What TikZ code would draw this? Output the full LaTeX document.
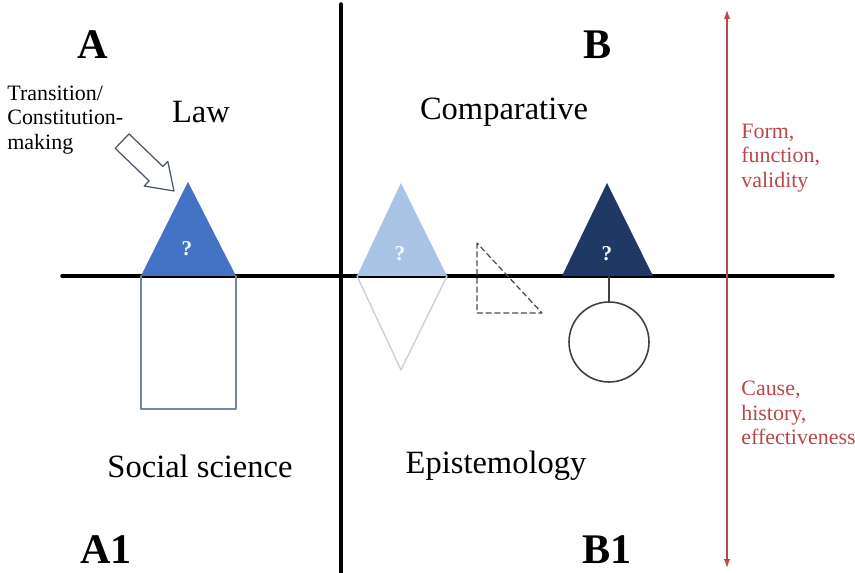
\documentclass[tikz,border=0pt]{standalone}
\usepackage{fontspec}
\setmainfont{Liberation Serif}
\usetikzlibrary{arrows.meta}

\definecolor{lawblue}{RGB}{68,114,196}
\definecolor{paleblue}{RGB}{170,196,230}
\definecolor{navyblue}{RGB}{31,56,100}
\definecolor{boxgray}{RGB}{120,135,160}
\definecolor{lightgray}{RGB}{200,208,222}
\definecolor{axisred}{RGB}{185,72,72}
\definecolor{slate}{RGB}{75,85,100}

\begin{document}
\begin{tikzpicture}[
    x={(0.02cm,0cm)},
    y={(0cm,-0.02cm)},
    line cap=round,
    line join=round,
    axis/.style={
        line width=2pt
    },
    redaxis/.style={
        draw=axisred,
        line width=0.7pt,
        {Latex[length=1.8mm,width=1.3mm]}-{Latex[length=1.8mm,width=1.3mm]}
    },
    corner/.style={
        font=\fontsize{24}{28}\selectfont\bfseries
    },
    field/.style={
        font=\fontsize{18.5}{22}\selectfont
    },
    remark/.style={
        font=\fontsize{12.5}{14}\selectfont,
        align=left,
        anchor=west,
        inner sep=0pt
    },
    query/.style={
        font=\fontsize{12}{14}\selectfont\bfseries,
        text=white!92!paleblue
    },
    hollow/.style={
        draw=slate,
        line width=0.7pt,
        fill=white
    }
]

\useasboundingbox (0,0) rectangle (855,573);

% =================================================
% Оси
% =================================================

\coordinate (W) at (62,276);
\coordinate (E) at (833,276);
\coordinate (N) at (341,4);
\coordinate (S) at (341,573);

\draw[axis] (W)--(E);
\draw[axis] (N)--(S);

\coordinate (Rtop) at (727,10);
\coordinate (Rbot) at (727,568);
\draw[redaxis] (Rtop)--(Rbot);

% =================================================
% Треугольник Law и прямоугольник под ним
% =================================================

\coordinate (L1) at (141,276);
\coordinate (L2) at (236,276);
\coordinate (L3) at (188,182);
\coordinate (L4) at (236,409);
\coordinate (L5) at (141,409);

\draw[boxgray, line width=0.9pt] (L1)--(L5)--(L4)--(L2);
\fill[lawblue] (L1)--(L2)--(L3)--cycle;

% Полый указатель
\draw[hollow] (174,191)--(144.2,186.0)--(149.1,180.9)--(115.2,148.3)
    --(129.0,133.9)--(162.9,166.5)--(167.8,161.4)--cycle;

% =================================================
% Ромб
% =================================================

\coordinate (P1) at (357,276);
\coordinate (P2) at (447,276);
\coordinate (P3) at (401,183);
\coordinate (P4) at (401,370);

\draw[lightgray, line width=0.8pt] (P1)--(P4)--(P2);
\fill[paleblue] (P1)--(P2)--(P3)--cycle;

% Пунктирный треугольник
\coordinate (T1) at (477,243);
\coordinate (T2) at (477,313);
\coordinate (T3) at (542,313);
\draw[black!70, line width=0.7pt, dashed, dash pattern=on 3pt off 2pt]
    (T1)--(T2)--(T3)--cycle;

% =================================================
% Тёмный треугольник и круг
% =================================================

\coordinate (D1) at (562,276);
\coordinate (D2) at (653,276);
\coordinate (D3) at (607,183);
\coordinate (Dm) at (609,277);

\fill[navyblue] (D1)--(D2)--(D3)--cycle;
\node[circle, draw=black!75, line width=0.9pt, minimum size=1.6cm,
    inner sep=0pt] (ring) at (609,342) {};
\draw[black!75, line width=0.9pt] (Dm)--(ring.north);

% =================================================
% Подписи
% =================================================

\node[query] (q1) at (187,249) {?};
\node[query] (q2) at (400,254) {?};
\node[query] (q3) at (607,254) {?};

\node[corner] (cA)  at (93,45)   {A};
\node[corner] (cB)  at (598,45)  {B};
\node[corner] (cA1) at (106,550) {A1};
\node[corner] (cB1) at (607,550) {B1};

\node[field] (law)  at (201,112) {Law};
\node[field] (comp) at (504,112) {Comparative};
\node[field] (soc)  at (200,466) {Social science};
\node[field] (epi)  at (496,466) {Epistemology};

\node[remark] (trans) at (7,120)
    {Transition/\\Constitution-\\making};

\node[remark, text=axisred] (form)  at (741,158)
    {Form,\\function,\\validity};
\node[remark, text=axisred] (cause) at (741,413)
    {Cause,\\history,\\effectiveness};

\end{tikzpicture}
\end{document}
